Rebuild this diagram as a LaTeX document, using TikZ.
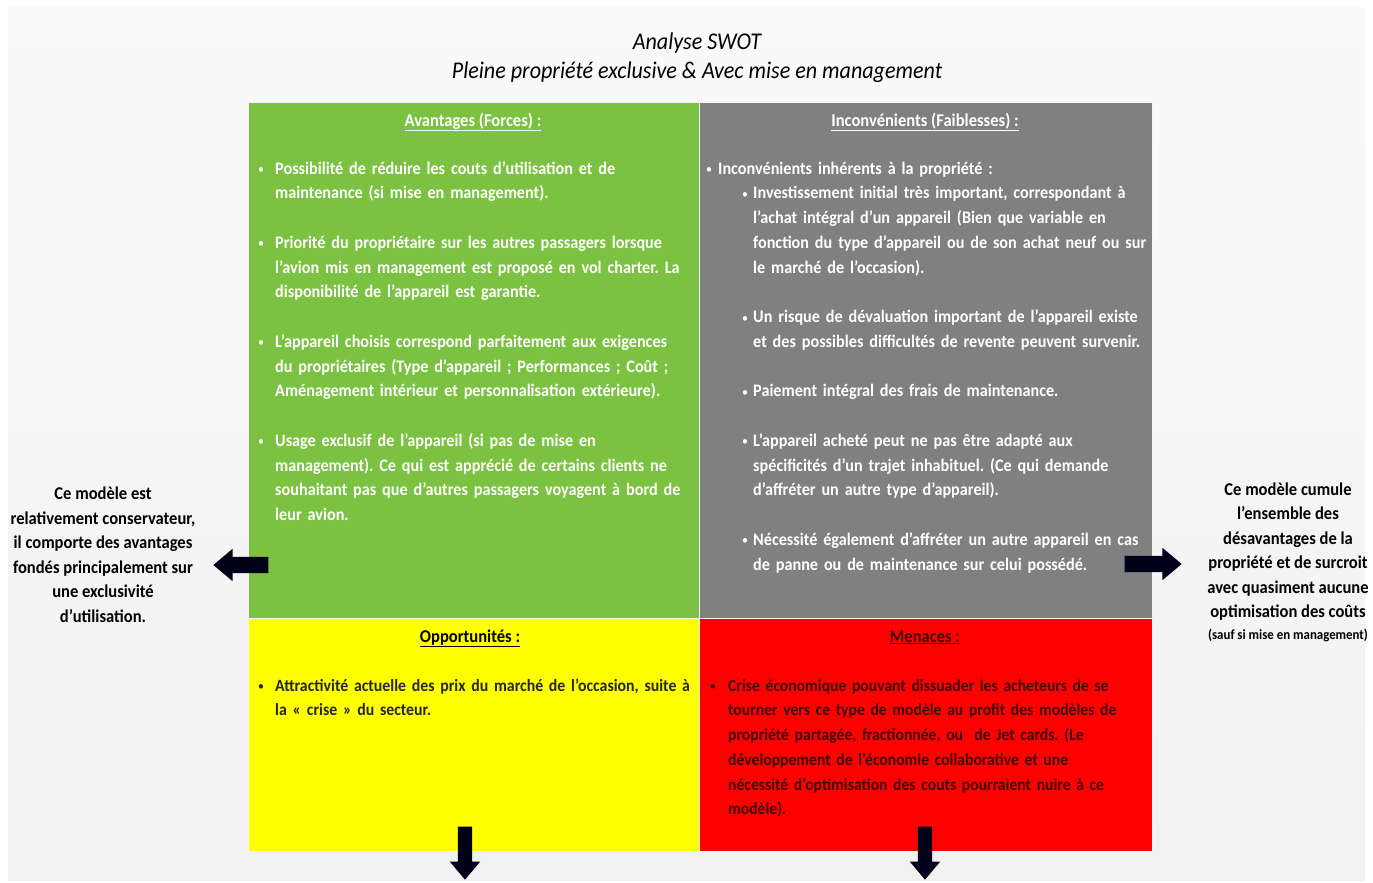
\documentclass[tikz,border=0pt]{standalone}
\usepackage{fontspec}
\setmainfont{Carlito}[FakeStretch=0.92]
\usepackage{xcolor}
\usepackage{tikz}
\usetikzlibrary{shapes.arrows, positioning}
\frenchspacing

\definecolor{swotgreen}{RGB}{124,194,66}
\definecolor{swotgray}{RGB}{128,128,128}
\definecolor{swotyellow}{RGB}{255,255,0}
\definecolor{swotred}{RGB}{255,0,0}
\definecolor{darkred}{RGB}{60,8,8}

\newcommand{\swotfont}[1][17]{\fontsize{#1}{24.75}\selectfont\bfseries}
\newcommand{\puce}{{\mdseries\fontsize{13}{13}\selectfont\raisebox{0.5pt}{•}}}
% bullet with hanging text
\newcommand{\swotitem}[2][15pt]{\hangindent=#1\hangafter=1\noindent\makebox[#1][l]{\puce}#2\par}

\begin{document}
\begin{tikzpicture}[x=1pt,y=-1pt,
quadrant/.style={anchor=north west, inner sep=0pt, draw=white!92!gray, line width=1.2pt},
heading/.style={anchor=base, inner sep=0pt, font=\fontsize{18}{24}\selectfont\bfseries},
bullets/.style={anchor=base west, inner sep=0pt, align=left, text width=#1, font=\swotfont,
  execute at begin node={\setlength{\parskip}{24.75pt}}},
comment/.style={anchor=base, inner sep=0pt, align=center, font=\fontsize{18}{24.5}\selectfont\bfseries},
blockarrow/.style={single arrow, fill=black!90!blue, draw=none, anchor=tip, inner sep=8pt,
  single arrow head extend=8pt, single arrow tip angle=80}]
\useasboundingbox (0,0) rectangle (1373,883);
\fill[white] (0,0) rectangle (1373,883);
\shade[top color=white!96!gray, bottom color=white!89!gray] (8,8) rectangle (1365,880);

% title
\node[anchor=base, inner sep=0pt, align=center, font=\fontsize{24}{29}\selectfont\itshape] (title) at (697,78)
  {Analyse SWOT\\Pleine propriété exclusive \& Avec mise en management};

% the four quadrants
\node[quadrant, fill=swotgreen, minimum width=451pt, minimum height=516pt] (forces) at (248,102) {};
\node[quadrant, fill=swotgray, minimum width=453pt, minimum height=516pt] (faiblesses) at (699,102) {};
\node[quadrant, fill=swotyellow, minimum width=451pt, minimum height=233pt] (opportunites) at (248,618) {};
\node[quadrant, fill=swotred, minimum width=453pt, minimum height=233pt] (menaces) at (699,618) {};

% headings
\node[heading, white] (forcestitle) at (473,126) {\underline{Avantages (Forces) :}};
\node[heading, white] (faiblessestitle) at (925,126) {\underline{Inconvénients (Faiblesses) :}};
\node[heading, black] (opportunitestitle) at (470,642) {\underline{Opportunités :}};
\node[heading, darkred] (menacestitle) at (925,642) {\underline{Menaces :}};

% contents
\node[bullets=435pt, white, font={\swotfont[17.6]}] (forcestext) at (258,174) {%
\swotitem[17pt]{Possibilité de réduire les couts d’utilisation et de\newline maintenance (si mise en management).}
\swotitem[17pt]{Priorité du propriétaire sur les autres passagers lorsque\newline l’avion mis en management est proposé en vol charter. La\newline disponibilité de l’appareil est garantie.}
\swotitem[17pt]{L’appareil choisis correspond parfaitement aux exigences\newline du propriétaires (Type d’appareil ; Performances ; Coût ;\newline Aménagement intérieur et personnalisation extérieure).}
\swotitem[17pt]{Usage exclusif de l’appareil (si pas de mise en\newline management). Ce qui est apprécié de certains clients ne\newline souhaitant pas que d’autres passagers voyagent à bord de\newline leur avion.}};

\node[bullets=445pt, white, font={\swotfont[17.6]}] (faiblessestext) at (706,174) {%
\noindent\makebox[12pt][l]{\puce}Inconvénients inhérents à la propriété :\par\vspace{-24.75pt}
\leftskip=36pt
\swotitem[11pt]{Investissement initial très important, correspondant à\newline l’achat intégral d’un appareil (Bien que variable en\newline fonction du type d’appareil ou de son achat neuf ou sur\newline le marché de l’occasion).}
\swotitem[11pt]{Un risque de dévaluation important de l’appareil existe\newline et des possibles difficultés de revente peuvent survenir.}
\swotitem[11pt]{Paiement intégral des frais de maintenance.}
\swotitem[11pt]{L’appareil acheté peut ne pas être adapté aux\newline spécificités d’un trajet inhabituel. (Ce qui demande\newline d’affréter un autre type d’appareil).}
\swotitem[11pt]{Nécessité également d’affréter un autre appareil en cas\newline de panne ou de maintenance sur celui possédé.}};

\node[bullets=440pt, black!85, font={\swotfont[17.2]}] (opportunitestext) at (258,691) {%
\swotitem[17pt]{Attractivité actuelle des prix du marché de l’occasion, suite à\newline la « crise » du secteur.}};

\node[bullets=430pt, darkred] (menacestext) at (710,691) {%
\swotitem[18pt]{Crise économique pouvant dissuader les acheteurs de se\newline tourner vers ce type de modèle au profit des modèles de\newline propriété partagée, fractionnée, ou~ de Jet cards. (Le\newline développement de l’économie collaborative et une\newline nécessité d’optimisation des couts pourraient nuire à ce\newline modèle).}};

% side comments
\node[comment] (leftcomment) at (103,622)
  {Ce modèle est\\relativement conservateur,\\il comporte des avantages\\fondés principalement sur\\une exclusivité\\d’utilisation.};
\node[comment] (rightcomment) at (1288,639)
  {Ce modèle cumule\\l’ensemble des\\désavantages de la\\propriété et de surcroit\\avec quasiment aucune\\optimisation des coûts\\[-3pt]{\fontsize{14}{16}\selectfont(sauf si mise en management)}};

% block arrows
\node[blockarrow, shape border rotate=180, minimum height=55pt] (leftarrow) at (213,565) {};
\node[blockarrow, shape border rotate=0, minimum height=57pt] (rightarrow) at (1182,564) {};
\node[blockarrow, inner sep=7pt, shape border rotate=270, minimum height=53pt] (downleft) at (465,880) {};
\node[blockarrow, inner sep=7pt, shape border rotate=270, minimum height=53pt] (downright) at (925,880) {};
\end{tikzpicture}
\end{document}
